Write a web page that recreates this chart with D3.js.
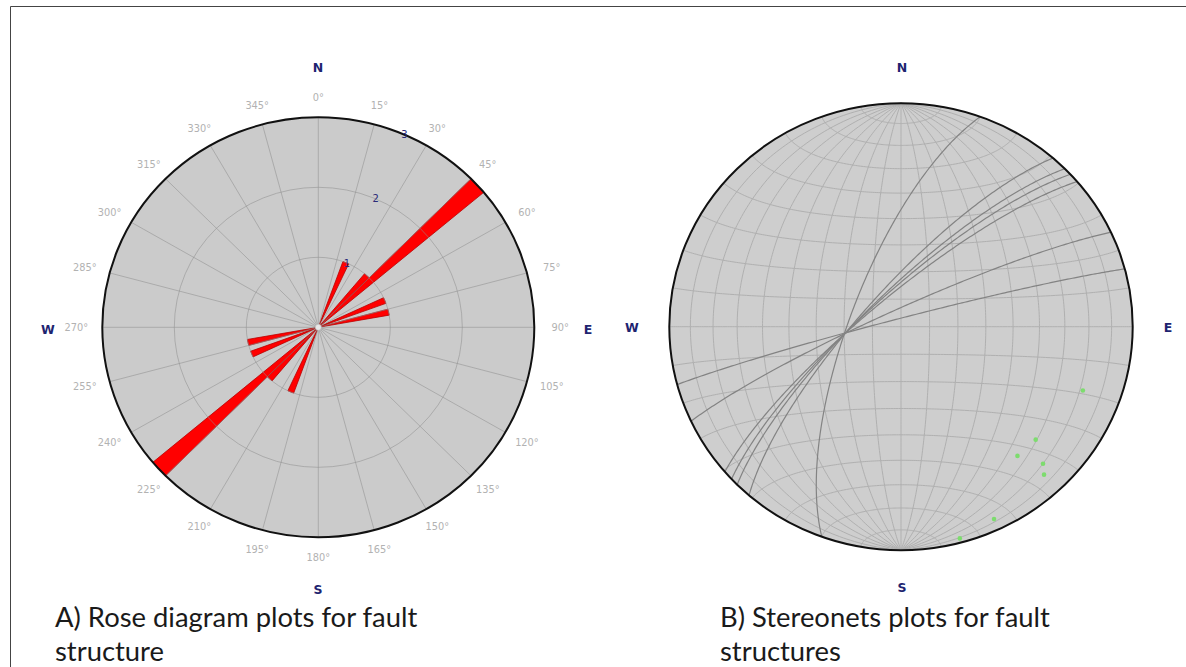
<!DOCTYPE html>
<html>
<head>
<meta charset="utf-8">
<script src="https://cdn.jsdelivr.net/npm/d3@7"></script>
<style>
  html, body { margin: 0; padding: 0; background: #fff; }
  svg { display: block; }
</style>
</head>
<body>
<svg id="chart" width="1186" height="667"></svg>
<script>
// ---------------- DATA ----------------
// Rose diagram: 5-degree bins (bin start azimuth), counts; plotted bidirectionally
const roseBinStart = [20, 40, 45, 65, 75];
const roseCounts   = [1, 1, 3, 1, 1];
const roseBinWidth = 5;
const roseRingTicks = [1, 2, 3];
const roseAngleTicks = d3.range(0, 360, 15);
const compass = ["N", "E", "S", "W"];

// Stereonet: fault planes (strike, right-hand rule; dip)
const planeStrike = [200, 221, 225, 227, 229.5, 245, 255];
const planeDip    = [72, 76.5, 77.5, 78, 78.8, 83.7, 87];
// Stereonet: plotted lineations (trend, plunge)
const pointTrend  = [110, 131, 139, 135, 137, 155, 165];
const pointPlunge = [17.6, 24, 24.4, 14.4, 10.4, 5.6, 2.2];

const captionA = ["A) Rose diagram plots for fault", "structure"];
const captionB = ["B) Stereonets plots for fault", "structures"];

// ---------------- SETUP ----------------
const svg = d3.select("#chart");
const rad = d3.scaleLinear().domain([0, 360]).range([0, 2 * Math.PI]);

// border
svg.append("path").attr("d", "M10.5,680 L10.5,6.5 L1190,6.5")
  .attr("fill", "none").attr("stroke", "#444").attr("stroke-width", 1);

// ---------------- ROSE ----------------
const R = { cx: 318.3, cy: 327.3, rx: 216, ry: 210 };
const rScale = d3.scaleLinear().domain([0, 3]).range([0, 1]);
const rp = (deg, v) => {
  const a = rad(deg), k = rScale(v);
  return [R.cx + R.rx * k * Math.sin(a), R.cy - R.ry * k * Math.cos(a)];
};
const rose = svg.append("g");
rose.append("ellipse").attr("cx", R.cx).attr("cy", R.cy).attr("rx", R.rx).attr("ry", R.ry)
  .attr("fill", "#cbcbcb");

// bars (bidirectional)
const bars = [];
roseBinStart.forEach((s, i) => {
  bars.push({ a0: s, a1: s + roseBinWidth, v: roseCounts[i] });
  bars.push({ a0: s + 180, a1: s + 180 + roseBinWidth, v: roseCounts[i] });
});
rose.selectAll("path.bar").data(bars).join("path").attr("class", "bar")
  .attr("d", d => {
    const p0 = rp(d.a0, d.v), p1 = rp(d.a1, d.v), k = rScale(d.v);
    return `M${R.cx},${R.cy}L${p0[0]},${p0[1]}A${R.rx * k},${R.ry * k} 0 0 1 ${p1[0]},${p1[1]}Z`;
  })
  .attr("fill", "#ff0000").attr("stroke", "#b80000").attr("stroke-width", 0.8)
  .attr("stroke-linejoin", "round");

// grid over bars
const grid = rose.append("g").attr("stroke", "#8f8f8f").attr("stroke-opacity", 0.55)
  .attr("fill", "none").attr("stroke-width", 1);
grid.selectAll("line").data(roseAngleTicks).join("line")
  .attr("x1", R.cx).attr("y1", R.cy)
  .attr("x2", d => rp(d, 3)[0]).attr("y2", d => rp(d, 3)[1]);
grid.selectAll("ellipse").data(roseRingTicks.slice(0, -1)).join("ellipse")
  .attr("cx", R.cx).attr("cy", R.cy)
  .attr("rx", d => R.rx * rScale(d)).attr("ry", d => R.ry * rScale(d));

rose.append("circle").attr("cx", R.cx).attr("cy", R.cy).attr("r", 3)
  .attr("fill", "#e8e8e8").attr("stroke", "#bbb").attr("stroke-width", 0.6);

rose.append("ellipse").attr("cx", R.cx).attr("cy", R.cy).attr("rx", R.rx).attr("ry", R.ry)
  .attr("fill", "none").attr("stroke", "#111").attr("stroke-width", 2);

// ring value labels
rose.selectAll("text.ring").data(roseRingTicks).join("text").attr("class", "ring")
  .attr("x", d => rp(23.5, d)[0]).attr("y", d => rp(23.5, d)[1])
  .attr("text-anchor", "middle").attr("dy", "0.35em")
  .attr("font-family", "DejaVu Sans, sans-serif").attr("font-size", 10)
  .attr("fill", "#2a2a78").text(d => d);

// angle labels
rose.selectAll("text.ang").data(roseAngleTicks).join("text").attr("class", "ang")
  .attr("x", d => R.cx + (R.rx + 18 + 8 * Math.abs(Math.sin(rad(d)))) * Math.sin(rad(d)))
  .attr("y", d => R.cy - (R.ry + 20) * Math.cos(rad(d)))
  .attr("text-anchor", "middle").attr("dy", "0.35em")
  .attr("font-family", "DejaVu Sans, sans-serif").attr("font-size", 9.8)
  .attr("fill", "#b2b2b2").text(d => d + "°");

// compass letters
const roseCompassPos = [[318, 68], [588, 330], [318, 590], [48, 330]];
rose.selectAll("text.cmp").data(compass).join("text").attr("class", "cmp")
  .attr("x", (d, i) => roseCompassPos[i][0]).attr("y", (d, i) => roseCompassPos[i][1])
  .attr("text-anchor", "middle").attr("dy", "0.35em")
  .attr("font-family", "DejaVu Sans, sans-serif").attr("font-weight", "bold").attr("font-size", 12.5)
  .attr("fill", "#1e2470").text(d => d);

// ---------------- STEREONET (Schmidt, lower hemisphere) ----------------
const S = { cx: 901, cy: 326.7, rx: 231.7, ry: 223.5 };
const base = d3.geoAzimuthalEqualArea().rotate([0, 0]).scale(1 / Math.SQRT2)
  .translate([0, 0]).precision(0.0005);
const stretch = d3.geoTransform({
  point(x, y) { this.stream.point(S.cx + S.rx * x, S.cy + S.ry * y); }
});
const proj = { stream: s => base.stream(stretch.stream(s)) };
const gpath = d3.geoPath(proj);
const project = ll => { const p = base(ll); return [S.cx + S.rx * p[0], S.cy + S.ry * p[1]]; };

// vector (north, east, down) -> [lon, lat]
const toLL = (n, e, d) => [Math.atan2(e, d) * 180 / Math.PI, Math.asin(Math.max(-1, Math.min(1, n))) * 180 / Math.PI];
const lineLL = (trend, plunge) => {
  const t = rad(trend), p = rad(plunge);
  return toLL(Math.cos(p) * Math.cos(t), Math.cos(p) * Math.sin(t), Math.sin(p));
};

const net = svg.append("g");
net.append("ellipse").attr("cx", S.cx).attr("cy", S.cy).attr("rx", S.rx).attr("ry", S.ry)
  .attr("fill", "#cecece");

const gridLines = [];
d3.range(-80, 81, 10).forEach(lon => gridLines.push({ type: "LineString", coordinates: d3.range(-90, 90.1, 1).map(lat => [lon, lat]) }));
d3.range(-80, 81, 10).forEach(lat => gridLines.push({ type: "LineString", coordinates: d3.range(-90, 90.1, 1).map(lon => [lon, lat]) }));
net.append("g").selectAll("path").data(gridLines).join("path")
  .attr("d", gpath).attr("fill", "none").attr("stroke", "#b0b0b0").attr("stroke-width", 1);

// great circles
const planes = planeStrike.map((s, i) => {
  const st = rad(s), dp = rad(planeDip[i]), dd = st + Math.PI / 2;
  const sv = [Math.cos(st), Math.sin(st), 0];
  const dv = [Math.cos(dp) * Math.cos(dd), Math.cos(dp) * Math.sin(dd), Math.sin(dp)];
  const coords = d3.range(0, 180.01, 1).map(l => {
    const a = rad(l), c = Math.cos(a), sn = Math.sin(a);
    return toLL(c * sv[0] + sn * dv[0], c * sv[1] + sn * dv[1], c * sv[2] + sn * dv[2]);
  });
  return { type: "LineString", coordinates: coords };
});
net.append("g").selectAll("path").data(planes).join("path")
  .attr("d", gpath).attr("fill", "none").attr("stroke", "#838383").attr("stroke-width", 1.2);

// points
net.append("g").selectAll("circle").data(pointTrend.map((t, i) => lineLL(t, pointPlunge[i]))).join("circle")
  .attr("cx", d => project(d)[0]).attr("cy", d => project(d)[1]).attr("r", 2.3)
  .attr("fill", "#7ddc6e");

net.append("ellipse").attr("cx", S.cx).attr("cy", S.cy).attr("rx", S.rx).attr("ry", S.ry)
  .attr("fill", "none").attr("stroke", "#111").attr("stroke-width", 2);

const netCompassPos = [[902, 68], [1168, 328], [902, 588], [632, 328]];
net.selectAll("text.cmp").data(compass).join("text").attr("class", "cmp")
  .attr("x", (d, i) => netCompassPos[i][0]).attr("y", (d, i) => netCompassPos[i][1])
  .attr("text-anchor", "middle").attr("dy", "0.35em")
  .attr("font-family", "DejaVu Sans, sans-serif").attr("font-weight", "bold").attr("font-size", 12.5)
  .attr("fill", "#1e2470").text(d => d);

// ---------------- CAPTIONS ----------------
const cap = (lines, x) => {
  svg.selectAll(null).data(lines).join("text")
    .attr("x", x).attr("y", (d, i) => 627 + i * 34)
    .attr("font-family", "Lato, 'Open Sans', sans-serif").attr("font-size", 27.4)
    .attr("fill", "#1a1a1a").text(d => d);
};
cap(captionA, 55);
cap(captionB, 720);
</script>
</body>
</html>
